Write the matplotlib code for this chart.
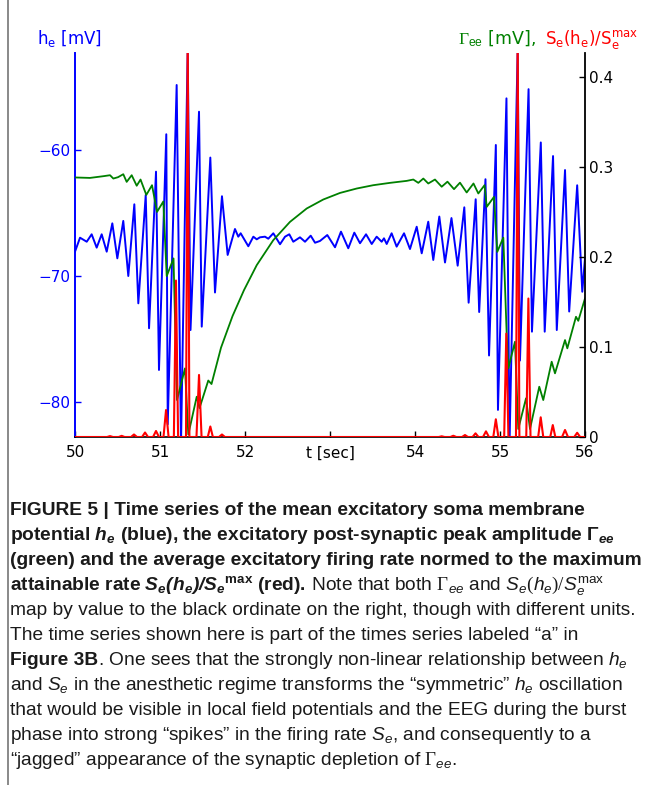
import matplotlib
matplotlib.use("Agg")
import matplotlib.pyplot as plt
from matplotlib.lines import Line2D

# h_e [mV], blue, left axis (peaks / troughs)
he_t = [50.000, 50.059, 50.138, 50.196, 50.255, 50.314, 50.373, 50.439, 50.498, 50.568,
        50.627, 50.698, 50.745, 50.832, 50.871, 50.953, 50.988, 51.074, 51.091, 51.196,
        51.247, 51.326, 51.359, 51.459, 51.491, 51.592, 51.647, 51.729, 51.796, 51.882,
        51.921, 51.949, 52.039, 52.098, 52.138, 52.176, 52.235, 52.274, 52.333, 52.412,
        52.471, 52.521, 52.568, 52.647, 52.706, 52.773, 52.824, 52.882, 52.968, 53.059,
        53.129, 53.215, 53.286, 53.353, 53.424, 53.491, 53.549, 53.608, 53.635, 53.667,
        53.725, 53.784, 53.871, 53.941, 54.020, 54.079, 54.156, 54.215, 54.286, 54.353,
        54.429, 54.502, 54.580, 54.631, 54.714, 54.755, 54.829, 54.871, 54.951, 54.976,
        55.076, 55.112, 55.208, 55.235, 55.336, 55.376, 55.480, 55.526, 55.624, 55.668,
        55.765, 55.814, 55.908, 55.968, 56.000]
he_mv = [-68.07, -66.96, -67.28, -66.69, -67.75, -66.69, -68.07, -65.82, -68.60, -65.63,
         -70.00, -64.31, -72.17, -63.57, -74.15, -61.72, -77.46, -58.75, -81.77, -54.84,
         -83.40, -52.00, -74.29, -56.96, -74.02, -60.60, -71.31, -63.67, -68.33, -66.27,
         -66.88, -66.61, -67.64, -66.88, -67.09, -66.93, -66.88, -67.04, -66.61, -67.48,
         -66.88, -66.69, -67.28, -66.93, -67.28, -66.80, -67.36, -67.22, -66.75, -67.72,
         -66.48, -67.80, -66.56, -67.40, -66.69, -67.46, -66.88, -67.28, -67.01, -67.46,
         -66.61, -67.67, -66.61, -67.86, -66.09, -68.20, -65.69, -68.73, -65.28, -68.93,
         -65.40, -69.18, -64.55, -72.12, -63.91, -72.86, -62.32, -76.31, -59.60, -80.63,
         -55.90, -83.40, -52.00, -76.71, -55.17, -74.42, -59.40, -74.42, -60.48, -74.29,
         -61.59, -72.82, -62.80, -71.25, -68.60]

# Gamma_ee, green, right axis
gee_t = [50.000, 50.176, 50.333, 50.412, 50.451, 50.506, 50.568, 50.608, 50.667, 50.726,
         50.771, 50.839, 50.906, 50.965, 51.039, 51.079, 51.159, 51.200, 51.294, 51.333,
         51.432, 51.465, 51.568, 51.606, 51.718, 51.853, 51.988, 52.138, 52.333, 52.529,
         52.726, 52.921, 53.118, 53.314, 53.509, 53.706, 53.902, 53.980, 54.039, 54.098,
         54.156, 54.235, 54.314, 54.382, 54.459, 54.529, 54.608, 54.688, 54.745, 54.818,
         54.844, 54.929, 54.968, 55.039, 55.079, 55.098, 55.176, 55.215, 55.306, 55.353,
         55.462, 55.509, 55.608, 55.647, 55.765, 55.792, 55.894, 55.921, 56.000]
gee_v = [0.2886, 0.2881, 0.2900, 0.2911, 0.2874, 0.2889, 0.2922, 0.2837, 0.2911, 0.2794,
         0.2863, 0.2692, 0.2800, 0.2503, 0.2619, 0.1789, 0.1986, 0.0411, 0.0763, 0.0028,
         0.0448, 0.0322, 0.0628, 0.0589, 0.0994, 0.1344, 0.1633, 0.1911, 0.2189, 0.2392,
         0.2541, 0.2641, 0.2714, 0.2763, 0.2800, 0.2826, 0.2848, 0.2863, 0.2826, 0.2874,
         0.2819, 0.2863, 0.2783, 0.2839, 0.2756, 0.2828, 0.2719, 0.2819, 0.2708, 0.2800,
         0.2559, 0.2670, 0.2059, 0.2217, 0.1133, 0.0763, 0.1059, 0.0089, 0.0430, 0.0089,
         0.0559, 0.0411, 0.0837, 0.0708, 0.1078, 0.0986, 0.1337, 0.1292, 0.1541]

# S_e(h_e)/S_e^max, red, right axis: zero baseline with narrow spikes
se_t = [50.000,
        50.377, 50.412, 50.447, 50.514, 50.549, 50.584, 50.659, 50.694, 50.729,
        50.789, 50.824, 50.859, 50.918, 50.953, 50.988, 51.041, 51.071, 51.101,
        51.163, 51.188, 51.213, 51.306, 51.326, 51.346, 51.429, 51.459, 51.489,
        51.562, 51.592, 51.622, 51.694, 51.729, 51.764,
        54.279, 54.314, 54.349, 54.416, 54.451, 54.486, 54.553, 54.588, 54.623,
        54.677, 54.712, 54.747, 54.800, 54.835, 54.870, 54.921, 54.951, 54.981,
        55.049, 55.074, 55.099, 55.188, 55.208, 55.228, 55.309, 55.334, 55.359,
        55.449, 55.479, 55.509, 55.591, 55.621, 55.651, 55.730, 55.765, 55.800,
        55.873, 55.908, 55.943,
        56.000]
se_v = [0.0,
        0.0, 0.0010, 0.0, 0.0, 0.0013, 0.0, 0.0, 0.0028, 0.0,
        0.0, 0.0050, 0.0, 0.0, 0.0067, 0.0, 0.0, 0.0300, 0.0,
        0.0, 0.1740, 0.0, 0.0, 0.4500, 0.0, 0.0, 0.0690, 0.0,
        0.0, 0.0117, 0.0, 0.0, 0.0028, 0.0,
        0.0, 0.0008, 0.0, 0.0, 0.0014, 0.0, 0.0, 0.0022, 0.0,
        0.0, 0.0041, 0.0, 0.0, 0.0063, 0.0, 0.0, 0.0197, 0.0,
        0.0, 0.1150, 0.0, 0.0, 0.4500, 0.0, 0.0, 0.1540, 0.0,
        0.0, 0.0219, 0.0, 0.0, 0.0133, 0.0, 0.0, 0.0078, 0.0,
        0.0, 0.0047, 0.0,
        0.0]

x_ticks = [50, 51, 52, 53, 54, 55, 56]
x_labels = ["50", "51", "52", "t [sec]", "54", "55", "56"]
left_ticks = [-80, -70, -60]
right_ticks = [0, 0.1, 0.2, 0.3, 0.4]
right_labels = ["0", "0.1", "0.2", "0.3", "0.4"]

BLUE = "#0000ff"
GREEN = "#008000"
RED = "#ff0000"

# caption, one entry per printed line; each piece is (text, weight)
caption = [
    [("FIGURE 5 | Time series of the mean excitatory soma membrane", "bold")],
    [("potential $\\mathbfit{h_e}$ (blue), the excitatory post-synaptic peak amplitude "
      "$\\mathbf{\\Gamma}_\\mathbfit{ee}$", "bold")],
    [("(green) and the average excitatory firing rate normed to the maximum", "bold")],
    [("attainable rate $\\mathbfit{S_e(h_e)/S_e}^\\mathbf{max}$ (red).", "bold"),
     (" Note that both $\\Gamma_{ee}$ and $S_e(h_e)/S_e^\\mathsf{max}$", "normal")],
    [("map by value to the black ordinate on the right, though with different units.", "normal")],
    [("The time series shown here is part of the times series labeled \u201ca\u201d in", "normal")],
    [("Figure 3B", "bold"),
     (". One sees that the strongly non-linear relationship between $h_e$", "normal")],
    [("and $S_e$ in the anesthetic regime transforms the \u201csymmetric\u201d $h_e$ oscillation",
      "normal")],
    [("that would be visible in local field potentials and the EEG during the burst", "normal")],
    [("phase into strong \u201cspikes\u201d in the firing rate $S_e$, and consequently to a",
      "normal")],
    [("\u201cjagged\u201d appearance of the synaptic depletion of $\\Gamma_{ee}$.", "normal")],
]

plt.rcParams["mathtext.fontset"] = "custom"
plt.rcParams["mathtext.rm"] = "Liberation Serif"
plt.rcParams["mathtext.it"] = "Liberation Sans:italic"
plt.rcParams["mathtext.bf"] = "Liberation Sans:bold"
plt.rcParams["mathtext.bfit"] = "Liberation Sans:italic:bold"
plt.rcParams["mathtext.sf"] = "Liberation Sans"

W, H = 657, 785
fig = plt.figure(figsize=(W / 100, H / 100), dpi=100)

ax = fig.add_axes([75 / W, 1 - 437 / H, 510 / W, 384 / H])
ax2 = ax.twinx()

ax.plot(he_t, he_mv, color=BLUE, lw=1.4, solid_joinstyle="round")
ax2.plot(gee_t, gee_v, color=GREEN, lw=1.3, solid_joinstyle="round")
ax2.plot(se_t, se_v, color=RED, lw=1.5, solid_joinstyle="round", zorder=3)

ax.set_xlim(50, 56)
ax.set_ylim(-82.78, -52.3)
ax2.set_ylim(0, 0.427)

ax.set_xticks(x_ticks)
ax.set_xticklabels(x_labels)
ax.set_yticks(left_ticks)
ax2.set_yticks(right_ticks)
ax2.set_yticklabels(right_labels)

ax.tick_params(axis="x", direction="in", length=4, width=1, pad=6, labelsize=11, colors="black")
ax.tick_params(axis="y", direction="in", length=4, width=1, pad=3, labelsize=11, colors=BLUE)
ax2.tick_params(axis="y", direction="in", length=4, width=1, pad=3, labelsize=11, colors="black")

for s in ("top", "right"):
    ax.spines[s].set_visible(False)
for s in ("top", "left", "bottom"):
    ax2.spines[s].set_visible(False)
ax.spines["left"].set_color(BLUE)
ax.spines["left"].set_linewidth(1.4)
ax.spines["bottom"].set_linewidth(1.2)
ax2.spines["right"].set_linewidth(1.3)

# axis titles above the plot
fig.text(37 / W, 1 - 44 / H, r"h$_\mathrm{e}$ [mV]", color=BLUE, fontsize=12,
         math_fontfamily="dejavusans", va="baseline")
fig.text(458 / W, 1 - 44 / H, r"$\Gamma_\mathsf{ee}$ [mV],", color=GREEN, fontsize=12.5,
         math_fontfamily="custom", va="baseline")
fig.text(545 / W, 1 - 44 / H, r"S$_\mathrm{e}$(h$_\mathrm{e}$)/S$_\mathrm{e}^\mathrm{max}$",
         color=RED, fontsize=12, math_fontfamily="dejavusans", va="baseline")

# page border on the left
fig.add_artist(Line2D([8 / W, 8 / W], [0, 1], color="#808080", lw=1.3, transform=fig.transFigure))

# caption, drawn piece by piece so bold and normal runs sit side by side
renderer = fig.canvas.get_renderer()
CAP_SIZE = 13.8
for i, pieces in enumerate(caption):
    x = 10 / W
    y = 1 - (515 + 25 * i) / H
    for text, weight in pieces:
        t = fig.text(x, y, text, fontsize=CAP_SIZE, fontweight=weight, family="Liberation Sans",
                     math_fontfamily="custom", va="baseline", ha="left", color="#1a1a1a")
        x += t.get_window_extent(renderer).width / W

fig.savefig("out.png", dpi=100)
